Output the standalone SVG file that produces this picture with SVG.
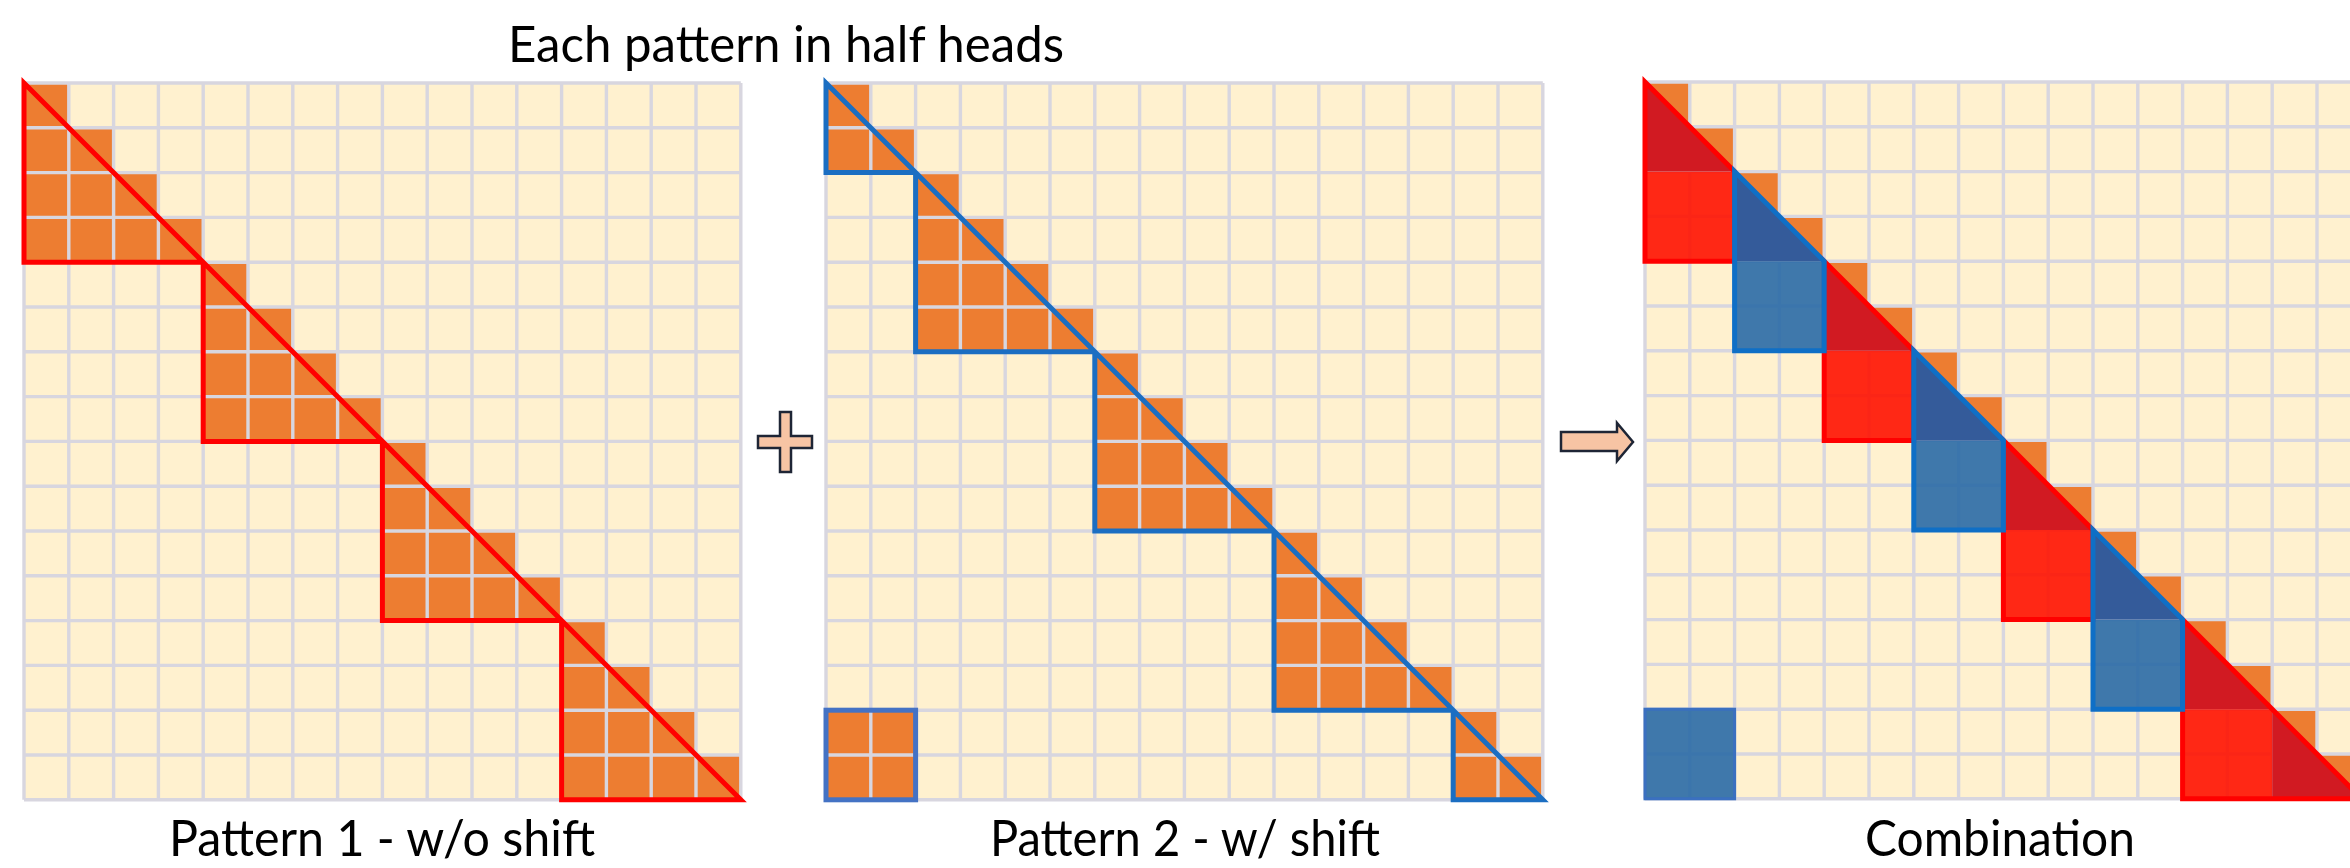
<svg xmlns="http://www.w3.org/2000/svg" xmlns:xlink="http://www.w3.org/1999/xlink" width="2350" height="868" viewBox="0 0 2350 868">
<style>
.bg{fill:#fff1cf}
.gl{fill:none;stroke:#d8d6df;stroke-width:3.4}
.or{fill:#ed7d31}
.rl{fill:none;stroke:#ff0000;stroke-width:5;stroke-linejoin:miter}
.bl{fill:none;stroke:#1b6ec2;stroke-width:5;stroke-linejoin:miter}
.rt{fill:#d11a22}
.rs{fill:#ff1200;fill-opacity:0.9}
.bt{fill:#345b9a}
.bs{fill:#2a6aa6;fill-opacity:0.9}
.txt{font-family:Lato,"Open Sans","Liberation Sans",sans-serif;font-size:50px;fill:#000000}
.sym{fill:#f7c4a4;stroke:#1e2535;stroke-width:2.5;stroke-linejoin:miter}
</style>
<defs>
<path id="grid" class="gl" d="M0 0V716.8M44.8 0V716.8M89.6 0V716.8M134.4 0V716.8M179.2 0V716.8M224 0V716.8M268.8 0V716.8M313.6 0V716.8M358.4 0V716.8M403.2 0V716.8M448 0V716.8M492.8 0V716.8M537.6 0V716.8M582.4 0V716.8M627.2 0V716.8M672 0V716.8M716.8 0V716.8M0 0H716.8M0 44.8H716.8M0 89.6H716.8M0 134.4H716.8M0 179.2H716.8M0 224H716.8M0 268.8H716.8M0 313.6H716.8M0 358.4H716.8M0 403.2H716.8M0 448H716.8M0 492.8H716.8M0 537.6H716.8M0 582.4H716.8M0 627.2H716.8M0 672H716.8M0 716.8H716.8"/>
</defs>
<rect width="2350" height="868" fill="#ffffff"/>

<g id="title"><text class="txt" x="786" y="62" text-anchor="middle" textLength="556" lengthAdjust="spacingAndGlyphs">Each pattern in half heads</text></g>

<g id="pattern1" transform="translate(24,83)">
<rect class="bg" width="716.8" height="716.8"/>
<path class="or" d="M0 0H44.8V44.8H89.6V89.6H134.4V134.4H179.2V179.2H0Z M179.2 179.2H224V224H268.8V268.8H313.6V313.6H358.4V358.4H179.2Z M358.4 358.4H403.2V403.2H448V448H492.8V492.8H537.6V537.6H358.4Z M537.6 537.6H582.4V582.4H627.2V627.2H672V672H716.8V716.8H537.6Z"/>
<use xlink:href="#grid" href="#grid"/>
<path class="rl" d="M0 0V179.2H179.2Z M179.2 179.2V358.4H358.4Z M358.4 358.4V537.6H537.6Z M537.6 537.6V716.8H716.8Z"/>
</g>

<g id="pattern2" transform="translate(826,83)">
<rect class="bg" width="716.8" height="716.8"/>
<path class="or" d="M0 0H44.8V44.8H89.6V89.6H0Z M89.6 89.6H134.4V134.4H179.2V179.2H224V224H268.8V268.8H89.6Z M268.8 268.8H313.6V313.6H358.4V358.4H403.2V403.2H448V448H268.8Z M448 448H492.8V492.8H537.6V537.6H582.4V582.4H627.2V627.2H448Z M627.2 627.2H672V672H716.8V716.8H627.2Z M0 627.2H89.6V716.8H0Z"/>
<use xlink:href="#grid" href="#grid"/>
<path class="bl" d="M0 0V89.6H89.6Z M89.6 89.6V268.8H268.8Z M268.8 268.8V448H448Z M448 448V627.2H627.2Z M627.2 627.2V716.8H716.8Z"/>
<rect x="0" y="627.2" width="89.6" height="89.6" fill="none" stroke="#4472c4" stroke-width="5"/>
</g>

<g id="combination" transform="translate(1645,82)">
<rect class="bg" width="716.8" height="716.8"/>
<path class="or" d="M0 0h44.8v44.8h-44.8z M44.8 44.8h44.8v44.8h-44.8z M89.6 89.6h44.8v44.8h-44.8z M134.4 134.4h44.8v44.8h-44.8z M179.2 179.2h44.8v44.8h-44.8z M224 224h44.8v44.8h-44.8z M268.8 268.8h44.8v44.8h-44.8z M313.6 313.6h44.8v44.8h-44.8z M358.4 358.4h44.8v44.8h-44.8z M403.2 403.2h44.8v44.8h-44.8z M448 448h44.8v44.8h-44.8z M492.8 492.8h44.8v44.8h-44.8z M537.6 537.6h44.8v44.8h-44.8z M582.4 582.4h44.8v44.8h-44.8z M627.2 627.2h44.8v44.8h-44.8z M672 672h44.8v44.8h-44.8z"/>
<use xlink:href="#grid" href="#grid"/>
<g id="red-regions">
<rect class="rs" x="0" y="89.6" width="89.6" height="89.6"/>
<rect class="rs" x="179.2" y="268.8" width="89.6" height="89.6"/>
<rect class="rs" x="358.4" y="448" width="89.6" height="89.6"/>
<rect class="rs" x="537.6" y="627.2" width="89.6" height="89.6"/>
<path class="rt" d="M0 0V89.6H89.6Z M179.2 179.2V268.8H268.8Z M358.4 358.4V448H448Z M537.6 537.6V627.2H627.2Z M627.2 627.2V716.8H716.8Z"/>
<path class="rl" d="M0 0V179.2H89.6V89.6Z M179.2 179.2V358.4H268.8V268.8Z M358.4 358.4V537.6H448V448Z M537.6 537.6V716.8H716.8Z"/>
</g>
<g id="blue-regions">
<rect class="bs" x="89.6" y="179.2" width="89.6" height="89.6"/>
<rect class="bs" x="268.8" y="358.4" width="89.6" height="89.6"/>
<rect class="bs" x="448" y="537.6" width="89.6" height="89.6"/>
<path class="bt" d="M89.6 89.6V179.2H179.2Z M268.8 268.8V358.4H358.4Z M448 448V537.6H537.6Z"/>
<path d="M89.6 89.6V268.8H179.2V179.2Z M268.8 268.8V448H358.4V358.4Z M448 448V627.2H537.6V537.6Z" fill="none" stroke="#0f6fc6" stroke-width="5"/>
<rect class="bs" x="0" y="627.2" width="89.6" height="89.6" stroke="#3b70c0" stroke-width="3"/>
</g>
</g>

<g id="connectors">
<polygon id="plus" class="sym" points="780,412 791,412 791,436 812,436 812,448 791,448 791,472 780,472 780,448 758,448 758,436 780,436"/>
<polygon id="arrow" class="sym" points="1561,432 1617,432 1617,423 1633,442 1617,461 1617,451 1561,451"/>
</g>

<g id="label1"><text class="txt" x="382" y="856" text-anchor="middle" textLength="426" lengthAdjust="spacingAndGlyphs">Pattern 1 - w/o shift</text></g>
<g id="label2"><text class="txt" x="1185" y="856" text-anchor="middle" textLength="390" lengthAdjust="spacingAndGlyphs">Pattern 2 - w/ shift</text></g>
<g id="label3"><text class="txt" x="2000" y="856" text-anchor="middle" textLength="270" lengthAdjust="spacingAndGlyphs">Combination</text></g>
</svg>
